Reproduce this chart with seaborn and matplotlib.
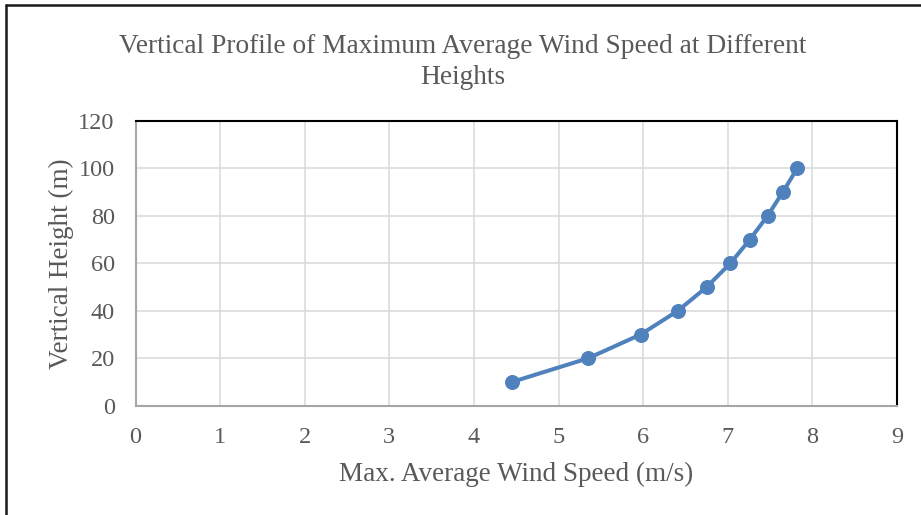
import matplotlib
matplotlib.use("Agg")
import matplotlib.pyplot as plt
from matplotlib.lines import Line2D
import seaborn as sns
import pandas as pd

# Data
wind_speed = [4.45, 5.35, 5.97, 6.41, 6.75, 7.03, 7.26, 7.47, 7.65, 7.82]
height = [10, 20, 30, 40, 50, 60, 70, 80, 90, 100]
x_ticks = [0, 1, 2, 3, 4, 5, 6, 7, 8, 9]
y_ticks = [0, 20, 40, 60, 80, 100, 120]

title = "Vertical Profile of Maximum Average Wind Speed at Different\nHeights"
x_label = "Max. Average Wind Speed (m/s)"
y_label = "Vertical Height (m)"

df = pd.DataFrame({"speed": wind_speed, "height": height})

sns.set_theme(style="white")
plt.rcParams["font.family"] = ["Liberation Serif", "DejaVu Serif"]

TXT = "#595959"
BLUE = "#4F81BD"

fig = plt.figure(figsize=(9.21, 5.15), dpi=100)
ax = fig.add_axes([135.5 / 921, 1 - 405.7 / 515, (897 - 135.5) / 921, (405.7 - 121) / 515])

sns.lineplot(data=df, x="speed", y="height", ax=ax, color=BLUE, linewidth=2.9,
             marker="o", markersize=10, markeredgecolor=BLUE, markerfacecolor=BLUE,
             estimator=None, sort=False)

ax.set_xlim(0, 9)
ax.set_ylim(0, 120)
ax.set_xticks(x_ticks)
ax.set_yticks(y_ticks)
ax.set_xticklabels([str(v) for v in x_ticks])
ax.set_yticklabels([str(v) for v in y_ticks])
ax.grid(True, color="#D9D9D9", linewidth=1.1)
ax.set_axisbelow(True)

ax.tick_params(axis="both", length=0, labelsize=17.5, colors=TXT)
ax.tick_params(axis="x", pad=15)
ax.tick_params(axis="y", pad=15)

for side in ["left", "bottom"]:
    ax.spines[side].set_color("#A6A6A6")
    ax.spines[side].set_linewidth(1.5)
for side in ["top", "right"]:
    ax.spines[side].set_color("#000000")
    ax.spines[side].set_linewidth(1.5)

ax.set_xlabel(x_label, fontsize=19.5, color=TXT, labelpad=10)
ax.set_ylabel(y_label, fontsize=19.5, color=TXT, labelpad=3)

fig.text(463 / 921, 1 - 34 / 515, title, ha="center", va="top", fontsize=19.7,
         color=TXT, linespacing=1.3)

# chart border
fig.add_artist(Line2D([6 / 921, 6 / 921], [0, 1 - 5 / 515], transform=fig.transFigure,
                      color="#1a1a1a", linewidth=1.8))
fig.add_artist(Line2D([6 / 921, 1], [1 - 5 / 515, 1 - 5 / 515], transform=fig.transFigure,
                      color="#1a1a1a", linewidth=1.8))

fig.savefig("out.png", dpi=100)
